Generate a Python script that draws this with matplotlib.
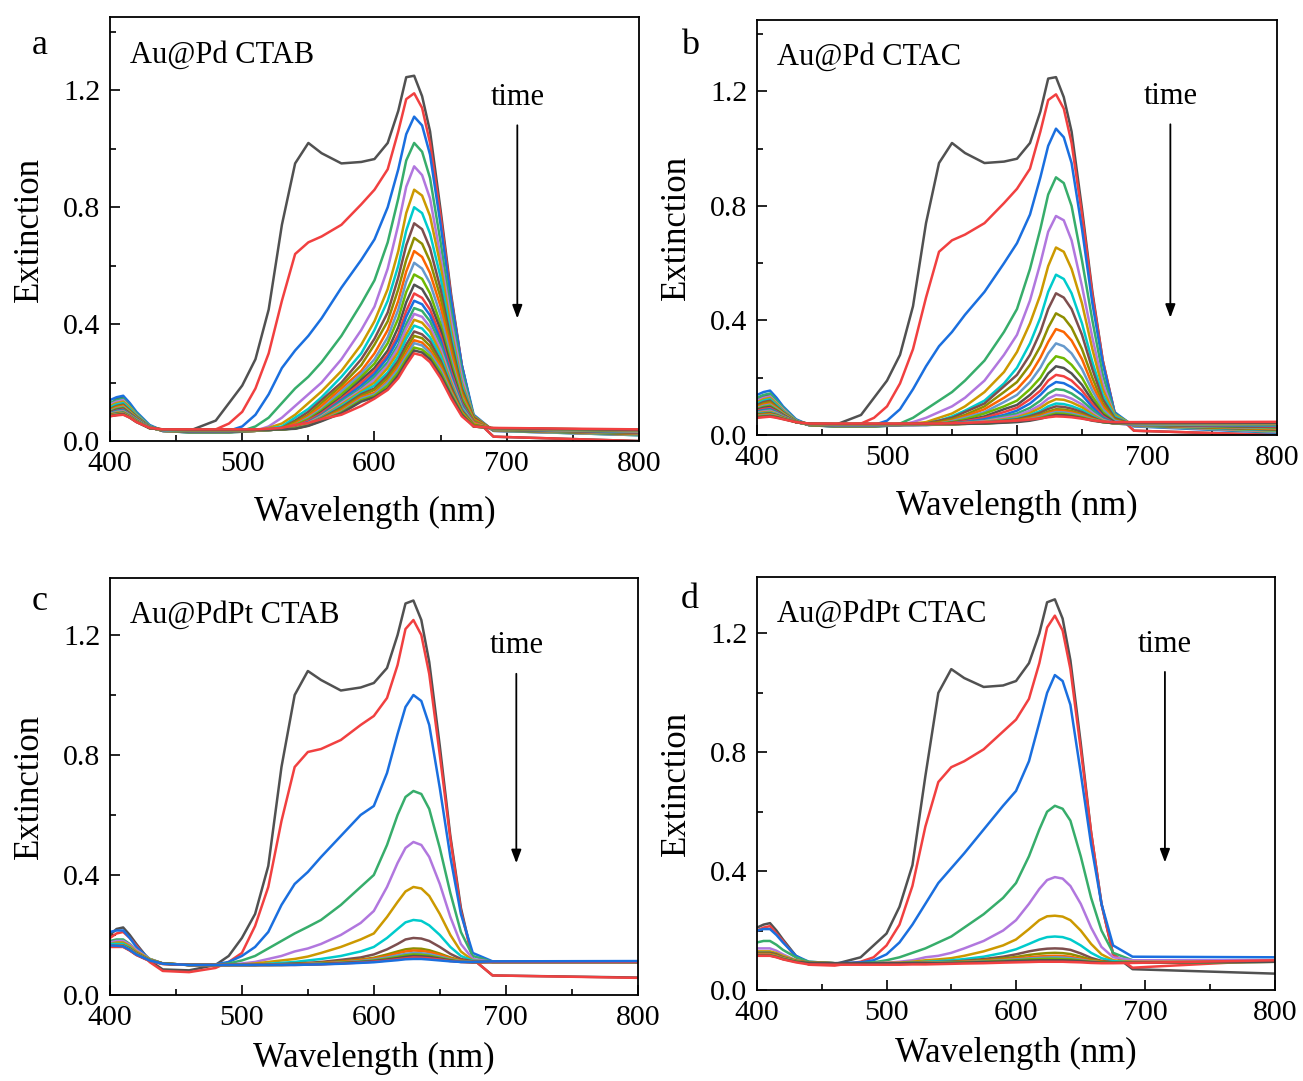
import matplotlib
matplotlib.use('Agg')
import matplotlib.pyplot as plt
from matplotlib.ticker import MultipleLocator

plt.rcParams['font.family'] = ['Liberation Serif', 'DejaVu Serif']

# wavelength grid (nm) shared by all spectra
wavelength = [400, 405, 410, 415, 420, 430, 440, 460, 480, 490, 500, 510, 520, 530, 540, 550,
              560, 575, 590, 600, 610, 618, 624, 630, 636, 642, 650, 658, 666, 675, 690, 800]

# Origin default colour cycle
colors = ['#515151', '#F14040', '#1A6FDF', '#37AD6B', '#B177DE', '#CC9900',
          '#00CBCC', '#7D4E4E', '#8E8E00', '#FB6501', '#6699CC', '#6FB802']

# (a) Au@Pd CTAB, spectra in time order
ext_a = [
    [.12, .145, .15, .125, .09, .05, .038, .035, .07, .13, .19, .28, .45, .74, .95, 1.02, .985, .95, .955, .965, 1.02, 1.13, 1.245, 1.25, 1.18, 1.06, .79, .5, .26, .08, .015, 0.0],
    [.11, .135, .14, .115, .085, .05, .037, .035, .04, .06, .1, .18, .3, .48, .64, .68, .7, .74, .81, .86, .93, 1.06, 1.17, 1.19, 1.14, 1.02, .77, .49, .26, .08, .015, 0.0],
    [.14, .15, .155, .13, .1, .055, .035, .03, .03, .035, .05, .09, .16, .25, .31, .36, .42, .525, .62, .69, .8, .93, 1.05, 1.11, 1.08, .98, .74, .48, .26, .09, .035, .02],
    [.13, .14, .145, .12, .095, .052, .034, .03, .03, .03, .035, .05, .08, .13, .18, .22, .27, .36, .47, .55, .68, .83, .96, 1.02, .99, .9, .68, .44, .24, .085, .035, .02],
    [.125, .135, .14, .115, .09, .05, .034, .03, .03, .03, .032, .035, .05, .08, .12, .16, .2, .28, .38, .46, .59, .74, .87, .94, .91, .83, .63, .41, .22, .08, .035, .021],
    [.12, .13, .135, .115, .088, .05, .035, .03, .03, .03, .032, .035, .045, .06, .09, .13, .17, .24, .33, .41, .52, .65, .78, .86, .84, .77, .6, .38, .2, .085, .036, .022],
    [.115, .125, .13, .11, .086, .05, .035, .03, .03, .03, .032, .035, .042, .05, .08, .11, .15, .22, .3, .38, .48, .6, .72, .8, .78, .71, .56, .36, .19, .08, .036, .023],
    [.11, .12, .125, .105, .084, .049, .035, .031, .031, .031, .033, .035, .04, .045, .07, .1, .14, .2, .28, .35, .44, .56, .67, .745, .725, .66, .52, .34, .18, .08, .037, .024],
    [.108, .118, .122, .103, .082, .048, .035, .031, .031, .031, .033, .035, .04, .045, .065, .09, .13, .19, .26, .33, .41, .52, .62, .695, .675, .615, .49, .32, .17, .075, .037, .025],
    [.105, .115, .12, .1, .08, .047, .035, .032, .032, .032, .033, .035, .038, .04, .06, .085, .12, .18, .24, .3, .38, .48, .58, .65, .63, .575, .46, .3, .16, .075, .038, .026],
    [.103, .112, .117, .098, .079, .047, .035, .032, .032, .032, .033, .035, .038, .04, .055, .08, .11, .17, .23, .28, .355, .45, .545, .61, .59, .54, .43, .28, .15, .07, .038, .027],
    [.1, .11, .114, .096, .078, .046, .036, .033, .033, .033, .034, .036, .038, .04, .055, .075, .105, .16, .22, .265, .335, .42, .51, .57, .555, .505, .4, .265, .145, .07, .039, .028],
    [.098, .107, .111, .094, .077, .046, .036, .033, .033, .033, .034, .036, .038, .04, .05, .07, .1, .15, .21, .25, .31, .39, .475, .535, .52, .475, .38, .25, .135, .065, .039, .029],
    [.096, .104, .108, .092, .076, .046, .037, .034, .034, .034, .035, .036, .038, .04, .05, .07, .095, .145, .2, .24, .295, .365, .445, .505, .49, .45, .36, .235, .13, .065, .04, .03],
    [.095, .103, .106, .09, .075, .046, .037, .034, .034, .034, .035, .036, .038, .04, .05, .065, .09, .14, .19, .23, .285, .35, .425, .48, .468, .43, .345, .225, .125, .06, .04, .031],
    [.094, .101, .104, .089, .074, .045, .038, .035, .035, .035, .036, .037, .038, .04, .048, .063, .088, .135, .18, .22, .27, .33, .4, .455, .445, .41, .33, .215, .12, .06, .04, .032],
    [.093, .099, .102, .088, .073, .045, .038, .035, .035, .035, .036, .037, .038, .04, .047, .062, .085, .13, .175, .21, .26, .32, .385, .435, .425, .39, .315, .21, .115, .06, .041, .033],
    [.092, .097, .1, .087, .072, .045, .038, .036, .036, .036, .036, .037, .038, .04, .046, .06, .082, .125, .17, .2, .25, .305, .365, .415, .405, .375, .3, .2, .11, .06, .041, .034],
    [.091, .095, .098, .086, .071, .045, .038, .036, .036, .036, .036, .037, .038, .04, .045, .058, .08, .12, .165, .19, .235, .29, .35, .395, .385, .355, .29, .19, .11, .055, .042, .035],
    [.09, .094, .097, .085, .07, .044, .039, .037, .037, .037, .037, .037, .038, .04, .045, .057, .078, .115, .16, .18, .225, .275, .33, .375, .365, .34, .275, .185, .105, .055, .042, .036],
    [.089, .093, .096, .084, .069, .044, .039, .037, .037, .037, .037, .037, .038, .04, .044, .056, .076, .11, .155, .175, .215, .265, .315, .36, .352, .325, .265, .175, .1, .055, .042, .036],
    [.088, .092, .095, .083, .068, .044, .039, .038, .038, .038, .038, .038, .039, .04, .044, .055, .074, .105, .15, .165, .205, .255, .3, .345, .337, .31, .255, .17, .1, .05, .043, .037],
    [.087, .091, .094, .082, .067, .044, .039, .038, .038, .038, .038, .038, .039, .04, .043, .054, .072, .1, .145, .16, .2, .245, .29, .335, .327, .3, .245, .165, .095, .05, .043, .037],
    [.086, .09, .093, .081, .066, .044, .04, .039, .039, .039, .039, .039, .039, .04, .043, .053, .07, .098, .14, .155, .19, .235, .28, .32, .313, .29, .235, .16, .095, .05, .044, .038],
    [.085, .089, .092, .08, .065, .044, .04, .039, .039, .039, .039, .039, .039, .04, .042, .052, .068, .095, .135, .15, .18, .225, .27, .31, .303, .28, .225, .155, .09, .05, .044, .038],
    [.085, .088, .09, .08, .065, .045, .04, .04, .04, .04, .04, .04, .042, .045, .055, .062, .075, .09, .12, .145, .175, .215, .26, .3, .293, .27, .215, .145, .085, .05, .045, .04],
]

# (b) Au@Pd CTAC
ext_b = [
    [.12, .135, .14, .12, .09, .05, .038, .035, .07, .13, .19, .28, .45, .74, .95, 1.02, .985, .95, .955, .965, 1.02, 1.13, 1.245, 1.25, 1.18, 1.06, .79, .5, .26, .08, .015, 0.0],
    [.11, .125, .13, .11, .085, .05, .037, .035, .04, .06, .1, .18, .3, .48, .64, .68, .7, .74, .81, .86, .93, 1.06, 1.17, 1.19, 1.14, 1.02, .77, .49, .26, .08, .015, 0.0],
    [.14, .15, .155, .13, .1, .055, .035, .03, .03, .035, .05, .09, .16, .24, .31, .36, .42, .5, .6, .67, .77, .9, 1.01, 1.07, 1.04, .95, .72, .46, .25, .08, .03, .008],
    [.13, .14, .145, .12, .095, .052, .034, .03, .03, .03, .033, .04, .06, .09, .12, .15, .19, .26, .36, .44, .58, .72, .84, .9, .88, .8, .61, .4, .21, .075, .032, .01],
    [.12, .13, .135, .112, .09, .05, .034, .03, .03, .03, .032, .035, .045, .06, .08, .1, .13, .19, .28, .35, .47, .6, .71, .765, .75, .68, .52, .34, .18, .07, .032, .012],
    [.115, .125, .13, .11, .086, .05, .035, .03, .03, .03, .032, .035, .04, .045, .06, .075, .1, .15, .22, .29, .39, .49, .59, .655, .64, .58, .46, .3, .16, .07, .033, .014],
    [.11, .12, .125, .105, .083, .049, .035, .03, .03, .03, .032, .035, .038, .04, .05, .065, .085, .12, .18, .235, .32, .41, .5, .56, .545, .495, .39, .255, .14, .065, .033, .016],
    [.105, .115, .12, .1, .08, .048, .035, .031, .031, .031, .033, .035, .038, .04, .05, .06, .08, .11, .17, .21, .28, .36, .44, .495, .48, .44, .35, .23, .125, .06, .034, .018],
    [.1, .11, .115, .097, .078, .047, .035, .031, .031, .031, .033, .035, .038, .04, .045, .055, .07, .1, .15, .185, .245, .31, .375, .425, .41, .375, .3, .2, .11, .055, .034, .02],
    [.097, .106, .11, .094, .076, .046, .036, .032, .032, .032, .033, .035, .037, .038, .042, .05, .065, .09, .13, .16, .21, .27, .325, .37, .36, .33, .265, .175, .1, .05, .035, .022],
    [.094, .102, .106, .091, .074, .046, .036, .032, .032, .032, .033, .035, .036, .037, .04, .048, .06, .08, .115, .14, .185, .235, .285, .32, .31, .285, .23, .155, .09, .05, .035, .024],
    [.091, .098, .102, .088, .072, .045, .036, .033, .033, .033, .034, .035, .036, .036, .04, .045, .055, .075, .1, .12, .16, .2, .245, .275, .268, .245, .2, .135, .08, .045, .036, .026],
    [.088, .095, .098, .085, .07, .045, .036, .033, .033, .033, .034, .035, .035, .036, .038, .043, .05, .065, .09, .105, .14, .175, .215, .24, .234, .215, .175, .12, .072, .045, .036, .028],
    [.085, .091, .094, .082, .068, .045, .037, .034, .034, .034, .035, .035, .035, .036, .038, .042, .048, .06, .08, .095, .125, .155, .19, .21, .205, .19, .155, .108, .066, .04, .037, .03],
    [.082, .087, .09, .08, .066, .045, .037, .034, .034, .034, .035, .035, .035, .035, .037, .04, .045, .055, .07, .085, .11, .14, .168, .185, .181, .167, .14, .097, .061, .04, .037, .032],
    [.08, .084, .087, .078, .065, .045, .037, .035, .035, .035, .035, .035, .035, .035, .037, .04, .044, .05, .065, .075, .095, .12, .145, .16, .157, .145, .12, .087, .057, .04, .038, .034],
    [.078, .082, .084, .076, .064, .045, .037, .035, .035, .035, .035, .035, .035, .035, .036, .038, .042, .048, .06, .068, .085, .105, .127, .14, .137, .127, .107, .078, .053, .04, .038, .035],
    [.076, .079, .081, .074, .063, .045, .038, .036, .036, .036, .036, .036, .036, .036, .036, .038, .041, .046, .055, .062, .077, .095, .113, .125, .123, .114, .097, .072, .05, .04, .039, .036],
    [.074, .076, .078, .072, .062, .045, .038, .036, .036, .036, .036, .036, .036, .036, .036, .037, .04, .044, .052, .058, .07, .084, .1, .11, .108, .101, .087, .066, .048, .04, .039, .037],
    [.072, .074, .076, .07, .061, .045, .038, .037, .037, .037, .037, .037, .037, .037, .037, .037, .04, .043, .05, .055, .066, .078, .091, .1, .098, .092, .08, .062, .047, .04, .04, .038],
    [.07, .072, .074, .068, .06, .045, .038, .037, .037, .037, .037, .037, .037, .037, .037, .037, .039, .042, .048, .052, .061, .071, .082, .09, .089, .084, .073, .058, .046, .04, .04, .039],
    [.068, .07, .072, .067, .059, .045, .039, .038, .038, .038, .038, .038, .038, .038, .038, .038, .039, .041, .046, .05, .058, .067, .077, .085, .084, .079, .069, .056, .046, .041, .041, .04],
    [.066, .068, .07, .066, .058, .045, .039, .038, .038, .038, .038, .038, .038, .038, .038, .038, .039, .04, .045, .048, .055, .063, .073, .08, .079, .075, .066, .054, .045, .041, .041, .041],
    [.064, .066, .068, .064, .057, .045, .04, .039, .039, .039, .039, .039, .039, .039, .039, .039, .039, .04, .044, .047, .053, .06, .068, .075, .074, .07, .062, .052, .045, .042, .042, .042],
    [.062, .064, .066, .062, .056, .045, .04, .039, .039, .039, .039, .039, .039, .039, .039, .039, .039, .04, .043, .045, .05, .057, .064, .07, .069, .066, .059, .05, .045, .042, .042, .043],
    [.06, .062, .064, .06, .055, .045, .04, .04, .04, .04, .04, .04, .04, .04, .04, .041, .042, .045, .048, .05, .054, .058, .062, .065, .064, .062, .057, .051, .047, .045, .045, .046],
]

# (c) Au@PdPt CTAB
ext_c = [
    [.2, .22, .225, .2, .17, .115, .085, .082, .1, .13, .19, .27, .43, .76, 1.0, 1.08, 1.05, 1.015, 1.025, 1.04, 1.09, 1.2, 1.305, 1.315, 1.25, 1.11, .83, .53, .29, .12, .065, .058],
    [.19, .205, .21, .19, .165, .11, .08, .076, .09, .11, .14, .23, .36, .58, .76, .81, .82, .85, .9, .93, .99, 1.1, 1.22, 1.25, 1.2, 1.07, .8, .52, .28, .12, .065, .057],
    [.21, .215, .215, .19, .16, .12, .105, .1, .102, .11, .13, .16, .21, .3, .37, .41, .46, .53, .6, .63, .74, .87, .96, 1.0, .98, .9, .69, .46, .27, .14, .112, .11],
    [.18, .185, .185, .17, .15, .12, .105, .1, .1, .105, .115, .13, .155, .18, .205, .227, .25, .3, .36, .4, .5, .6, .66, .68, .67, .62, .49, .34, .21, .13, .11, .11],
    [.175, .18, .18, .168, .15, .12, .105, .1, .1, .1, .105, .11, .12, .13, .145, .155, .17, .2, .24, .28, .36, .44, .49, .51, .5, .46, .37, .26, .17, .12, .11, .11],
    [.17, .175, .175, .163, .145, .12, .105, .1, .1, .1, .102, .105, .11, .115, .12, .128, .14, .16, .185, .205, .26, .31, .345, .36, .355, .33, .27, .2, .145, .115, .11, .11],
    [.17, .17, .17, .158, .14, .118, .105, .1, .1, .1, .1, .1, .104, .107, .11, .115, .12, .13, .145, .16, .19, .22, .242, .25, .247, .232, .2, .16, .13, .114, .11, .11],
    [.165, .165, .165, .155, .14, .117, .105, .1, .1, .1, .1, .1, .102, .103, .105, .107, .11, .117, .125, .135, .152, .17, .185, .19, .188, .18, .16, .137, .12, .112, .11, .11],
    [.165, .165, .165, .153, .138, .116, .105, .1, .1, .1, .1, .1, .101, .102, .103, .105, .107, .112, .118, .124, .135, .145, .152, .155, .154, .149, .138, .125, .115, .11, .11, .11],
    [.164, .164, .164, .152, .137, .116, .105, .1, .1, .1, .1, .1, .1, .101, .102, .104, .106, .11, .116, .121, .13, .139, .145, .148, .147, .143, .134, .122, .114, .11, .11, .11],
    [.163, .163, .163, .151, .136, .115, .104, .1, .1, .1, .1, .1, .1, .101, .102, .103, .105, .108, .113, .118, .125, .132, .137, .14, .139, .136, .128, .119, .112, .109, .11, .11],
    [.162, .162, .162, .15, .135, .115, .104, .1, .1, .1, .1, .1, .1, .1, .101, .102, .104, .107, .111, .115, .121, .127, .132, .135, .134, .131, .124, .117, .111, .109, .11, .11],
    [.161, .161, .161, .149, .134, .114, .104, .1, .1, .1, .1, .1, .1, .1, .101, .102, .103, .106, .11, .113, .118, .123, .127, .13, .129, .127, .121, .115, .11, .109, .11, .11],
    [.16, .16, .16, .148, .133, .113, .103, .1, .1, .1, .1, .1, .1, .1, .1, .101, .102, .105, .108, .111, .115, .119, .122, .125, .124, .122, .118, .113, .11, .109, .11, .11],
    [.165, .164, .162, .15, .135, .115, .104, .1, .1, .1, .1, .1, .1, .1, .1, .101, .102, .104, .107, .109, .113, .116, .119, .12, .12, .118, .115, .112, .11, .11, .112, .113],
]

# (d) Au@PdPt CTAC
ext_d = [
    [.21, .22, .225, .2, .17, .115, .09, .087, .11, .15, .19, .28, .42, .72, 1.0, 1.08, 1.05, 1.02, 1.025, 1.04, 1.1, 1.2, 1.305, 1.315, 1.25, 1.11, .83, .53, .29, .12, .07, .055],
    [.2, .21, .215, .19, .165, .11, .085, .082, .095, .11, .15, .22, .35, .55, .7, .75, .77, .81, .87, .91, .98, 1.1, 1.22, 1.26, 1.21, 1.08, .81, .53, .29, .12, .075, .1],
    [.2, .205, .205, .185, .16, .115, .095, .09, .093, .1, .12, .16, .22, .29, .36, .41, .46, .54, .62, .67, .77, .9, 1.0, 1.06, 1.04, .96, .73, .49, .29, .15, .112, .11],
    [.16, .165, .165, .152, .135, .11, .095, .09, .09, .093, .1, .11, .125, .14, .16, .18, .21, .255, .31, .36, .45, .54, .6, .62, .61, .57, .45, .31, .2, .125, .1, .1],
    [.14, .14, .14, .132, .12, .1, .092, .09, .09, .09, .092, .095, .1, .11, .115, .125, .14, .165, .2, .235, .29, .34, .37, .38, .375, .35, .29, .21, .145, .11, .1, .1],
    [.13, .13, .13, .124, .115, .1, .092, .09, .09, .09, .091, .092, .095, .1, .103, .107, .115, .13, .15, .17, .205, .235, .248, .25, .247, .235, .2, .155, .12, .1, .095, .095],
    [.125, .125, .125, .12, .11, .098, .092, .09, .09, .09, .09, .09, .092, .095, .097, .1, .104, .112, .125, .137, .155, .17, .178, .18, .178, .17, .15, .125, .107, .097, .093, .095],
    [.125, .125, .125, .12, .11, .098, .092, .09, .09, .09, .09, .09, .091, .093, .094, .095, .098, .104, .112, .12, .13, .136, .139, .14, .139, .135, .123, .108, .098, .093, .092, .095],
    [.122, .122, .122, .117, .108, .097, .092, .09, .09, .09, .09, .09, .091, .092, .093, .094, .096, .1, .106, .111, .118, .122, .124, .125, .124, .121, .112, .102, .096, .092, .092, .095],
    [.12, .12, .12, .115, .107, .097, .092, .09, .09, .09, .09, .09, .09, .091, .092, .093, .095, .098, .102, .106, .11, .113, .114, .115, .114, .112, .105, .098, .094, .092, .092, .095],
    [.118, .118, .118, .113, .106, .096, .091, .09, .09, .09, .09, .09, .09, .091, .092, .093, .094, .096, .1, .103, .106, .108, .109, .11, .109, .107, .102, .096, .093, .092, .092, .095],
    [.117, .117, .117, .112, .105, .096, .091, .09, .09, .09, .09, .09, .09, .09, .091, .092, .093, .095, .098, .1, .103, .104, .105, .105, .104, .103, .099, .095, .093, .092, .092, .095],
    [.116, .116, .116, .111, .104, .095, .091, .09, .09, .09, .09, .09, .09, .09, .09, .091, .092, .094, .096, .098, .099, .1, .1, .1, .1, .099, .097, .094, .092, .092, .092, .095],
    [.115, .115, .115, .11, .103, .093, .086, .085, .085, .085, .085, .085, .086, .086, .087, .088, .089, .09, .092, .093, .094, .095, .095, .095, .095, .094, .093, .091, .09, .09, .091, .1],
]

# letter, title, data, axes rect, y max, letter position (figure px), 'time' y, arrow (x, y0, y1)
panels = [
    ('a', 'Au@Pd CTAB', ext_a, [0.0844, 0.592, 0.406, 0.392], 1.45, (40, 45), 1.176, (708, 1.09, 0.41)),
    ('b', 'Au@Pd CTAC', ext_b, [0.581, 0.5976, 0.399, 0.384], 1.45, (690, 45), 1.183, (718, 1.095, 0.40)),
    ('c', 'Au@PdPt CTAB', ext_c, [0.0844, 0.0796, 0.405, 0.3857], 1.39, (40, 602), 1.164, (708, 1.08, 0.43)),
    ('d', 'Au@PdPt CTAC', ext_d, [0.581, 0.0842, 0.3975, 0.382], 1.39, (690, 600), 1.163, (715, 1.08, 0.42)),
]

fig = plt.figure(figsize=(13.03, 10.81), dpi=100)

for letter, title, spectra, rect, ytop, lpos, time_y, arrow in panels:
    ax = fig.add_axes(rect)
    for i, s in enumerate(spectra):
        ax.plot(wavelength, s, color=colors[i % len(colors)], lw=1.8,
                solid_joinstyle='round')
    ax.set_xlim(400, 800)
    ax.set_ylim(0, ytop)
    ax.xaxis.set_major_locator(MultipleLocator(100))
    ax.xaxis.set_minor_locator(MultipleLocator(50))
    ax.yaxis.set_major_locator(MultipleLocator(0.4))
    ax.yaxis.set_minor_locator(MultipleLocator(0.2))
    ax.yaxis.set_major_formatter(plt.FormatStrFormatter('%.1f'))
    ax.tick_params(which='both', direction='in', labelsize=21.5, width=1.2,
                   top=False, right=False)
    ax.tick_params(which='major', length=7, pad=7)
    ax.tick_params(which='minor', length=4)
    for sp in ax.spines.values():
        sp.set_linewidth(1.3)
    ax.set_xlabel('Wavelength (nm)', fontsize=25, labelpad=14 if rect[1] > 0.5 else 8)
    ax.set_ylabel('Extinction', fontsize=25, labelpad=12)
    ax.text(0.038, 0.91, title, transform=ax.transAxes, fontsize=22,
            va='center', ha='left')
    ax.text(arrow[0], time_y, 'time', fontsize=22, ha='center', va='center')
    ax.annotate('', xy=(arrow[0], arrow[2]), xytext=(arrow[0], arrow[1]),
                arrowprops=dict(arrowstyle='-|>,head_width=0.3,head_length=0.8',
                                color='black', lw=1.3))
    fig.text(lpos[0] / 1303, 1 - lpos[1] / 1081, letter, fontsize=26,
             ha='center', va='center')

fig.savefig('out.png', dpi=100)
